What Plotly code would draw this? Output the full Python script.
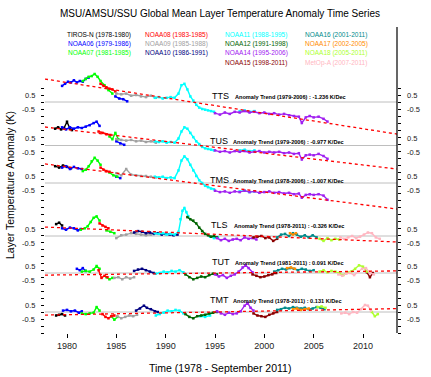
import plotly.graph_objects as go

# ---------------- data ----------------
SATELLITES = ["TIROS-N", "NOAA06", "NOAA07", "NOAA08", "NOAA09", "NOAA10", "NOAA11",
              "NOAA12", "NOAA14", "NOAA15", "NOAA16", "NOAA17", "NOAA18", "MetOp-A"]
SAT_PERIODS = ["(1978-1980)", "(1979-1986)", "(1981-1985)", "(1983-1985)", "(1985-1988)",
               "(1986-1991)", "(1988-1995)", "(1991-1998)", "(1995-2006)", "(1998-2011)",
               "(2001-2011)", "(2002-2005)", "(2005-2011)", "(2007-2011)"]
SAT_COLORS = ["#000000", "#0000FF", "#00FF00", "#FF0000", "#A0A0A0", "#000080", "#00FFFF",
              "#006400", "#A020F0", "#8B0000", "#008B8B", "#FF8C00", "#ADFF2F", "#FFB6C1"]

PANELS = ["TTS", "TUS", "TMS", "TLS", "TUT", "TMT"]
TREND_LABELS = ["Anomaly Trend (1979-2006) : -1.236 K/Dec",
                "Anomaly Trend (1979-2006) : -0.977 K/Dec",
                "Anomaly Trend (1978-2006) : -1.007 K/Dec",
                "Anomaly Trend (1978-2011) : -0.326 K/Dec",
                "Anomaly Trend (1981-2011) : 0.091 K/Dec",
                "Anomaly Trend (1978-2011) : 0.131 K/Dec"]
TREND_YEARS = [1977.77, 2013.45]
TREND_TTS = [1.64, -2.29]
TREND_TUS = [1.32, -1.68]
TREND_TMS = [1.36, -1.86]
TREND_TLS = [0.64, -0.43]
TREND_TUT = [-0.15, 0.15]
TREND_TMT = [-0.22, 0.24]

N14_T = [1995.0, 1995.5, 1996.0, 1996.5, 1997.0, 1997.5, 1998.0, 1998.5, 1999.0, 1999.5,
         2000.0, 2000.5, 2001.0, 2001.5, 2002.0, 2002.5, 2003.0, 2003.5, 2003.8, 2004.2,
         2004.6, 2005.0, 2005.5, 2006.0, 2006.4]
N11_T = [1988.9, 1989.3, 1989.7, 1990.1, 1990.5, 1990.9, 1991.3, 1991.6, 1991.9, 1992.2,
         1992.5, 1992.8, 1993.1, 1993.4, 1993.7, 1994.0, 1994.3, 1994.6, 1994.9,
         None, 1997.5, 1998.0, 1998.5, 1999.0]

TTS = {
    "NOAA06": ([1979.5, 1979.8, 1980.1, 1980.4, 1980.7, 1981.0, 1981.3, 1981.6, 1981.9, 1982.2,
                None, 1984.9, 1985.3, 1985.7, 1986.1],
               [1.15, 1.3, 1.45, 1.4, 1.55, 1.4, 1.5, 1.45, 1.65, 1.75,
                None, 0.4, 0.25, 0.2, 0.05]),
    "NOAA07": ([1981.6, 1981.9, 1982.2, 1982.5, 1982.8, 1983.1, 1983.4, 1983.8, 1984.2, 1984.6],
               [1.5, 1.65, 1.8, 1.85, 2.0, 1.8, 1.5, 1.2, 0.85, 0.6]),
    "NOAA08": ([1983.4, 1983.7, 1984.0, 1984.3, 1984.6, 1984.9],
               [1.3, 1.15, 1.05, 0.95, 0.9, 0.75]),
    "NOAA09": ([1985.0, 1985.5, 1986.0, 1986.5, 1987.0, 1987.5, 1988.0, 1988.5, 1989.0],
               [0.6, 0.55, 0.6, 0.45, 0.5, 0.4, 0.35, 0.45, 0.3]),
    "NOAA11": (N11_T,
               [0.3, 0.35, 0.25, 0.3, 0.35, 0.3, 0.6, 1.2, 1.3, 0.9, 0.4, 0.1, -0.2, -0.4,
                -0.5, -0.55, -0.6, -0.65, -0.7, None, -0.65, -0.6, -0.7, -0.65]),
    "NOAA14": (N14_T,
               [-0.8, -0.9, -0.75, -0.85, -0.7, -0.75, -0.65, -0.75, -0.7, -0.8, -0.75, -0.85,
                -0.8, -0.9, -0.85, -0.95, -1.0, -1.05, -1.5, -1.1, -1.0, -1.1, -1.05, -1.2, -1.4]),
}

TUS = {
    "TIROS-N": ([1978.8, 1979.1, 1979.4, 1979.7, 1980.0, 1980.3, 1980.5],
                [1.2, 1.3, 1.15, 1.25, 1.7, 1.2, 1.1]),
    "NOAA06": ([1979.5, 1979.9, 1980.3, 1980.7, 1981.1, 1981.5, 1981.9, 1982.3, 1982.7, 1983.0,
                1983.3, None, 1985.0, 1985.4, 1985.8],
               [1.3, 1.15, 1.3, 1.2, 1.3, 1.25, 1.35, 1.45, 1.6, 1.7, 1.4, None, 0.3, 0.15, 0.05]),
    "NOAA08": ([1983.2, 1983.6, 1984.0, 1984.4], [1.0, 0.9, 0.8, 0.75]),
    "NOAA07": ([1984.3, 1984.6, 1984.9, 1985.2], [0.65, 0.45, 0.9, 0.45]),
    "NOAA09": ([1985.0, 1985.5, 1986.0, 1986.5, 1987.0, 1987.5, 1988.0, 1988.5, 1989.0],
               [0.45, 0.4, 0.35, 0.4, 0.3, 0.35, 0.25, 0.3, 0.2]),
    "NOAA11": (N11_T,
               [0.3, 0.25, 0.3, 0.2, 0.25, 0.2, 0.5, 1.0, 1.3, 1.2, 0.9, 0.6, 0.3, 0.1, -0.1,
                -0.2, -0.25, -0.3, -0.35, None, -0.35, -0.3, -0.4, -0.35]),
    "NOAA14": (N14_T,
               [-0.35, -0.45, -0.4, -0.5, -0.4, -0.45, -0.4, -0.5, -0.45, -0.4, -0.5, -0.45,
                -0.5, -0.45, -0.55, -0.5, -0.6, -0.55, -1.0, -0.7, -0.65, -0.7, -0.6, -0.75, -0.95]),
}

TMS = {
    "TIROS-N": ([1978.8, 1979.2, 1979.6, 1980.0, 1980.4], [1.2, 1.1, 1.25, 1.15, 1.05]),
    "NOAA06": ([1979.5, 1979.9, 1980.3, 1980.7, 1981.1, 1981.5, None, 1985.0, 1985.4],
               [1.1, 1.2, 1.0, 1.15, 1.05, 1.0, None, 0.45, 0.35]),
    "NOAA07": ([1981.6, 1981.9, 1982.2, 1982.5, 1982.8, 1983.1, 1983.4, None, 1984.3, 1984.7, 1985.1],
               [0.85, 0.95, 1.2, 1.55, 1.8, 1.6, 1.3, None, 0.75, 0.55, 0.45]),
    "NOAA08": ([1983.4, 1983.7, 1984.0, 1984.3], [1.1, 0.95, 0.85, 0.8]),
    "NOAA09": ([1985.0, 1985.5, 1986.0, 1986.5, 1987.0, 1987.5, 1988.0, 1988.5, 1989.0],
               [0.7, 0.55, 1.0, 0.6, 0.55, 0.5, 0.5, 0.45, 0.4]),
    "NOAA11": (N11_T,
               [0.45, 0.4, 0.45, 0.35, 0.4, 0.35, 0.9, 1.6, 1.9, 1.7, 1.3, 0.9, 0.5, 0.2, 0.0,
                -0.2, -0.3, -0.4, -0.45, None, -0.6, -0.55, -0.65, -0.6]),
    "NOAA14": (N14_T,
               [-0.55, -0.65, -0.6, -0.7, -0.6, -0.65, -0.55, -0.65, -0.6, -0.7, -0.65, -0.6,
                -0.7, -0.65, -0.75, -0.7, -0.8, -0.75, -1.05, -0.85, -0.8, -0.85, -0.8, -0.9, -1.2]),
}

TLS = {
    "TIROS-N": ([1978.9, 1979.2, 1979.5], [0.85, 0.95, 0.75]),
    "NOAA06": ([1979.5, 1979.9, 1980.3, 1980.7, 1981.1, 1981.4], [0.55, 0.45, 0.6, 0.55, 0.4, 0.5]),
    "NOAA07": ([1981.4, 1981.8, 1982.1, 1982.4, 1982.7, 1983.0, 1983.3, None, 1984.0, 1984.4, 1984.8],
               [0.45, 0.55, 0.7, 1.0, 1.3, 1.4, 1.1, None, 0.4, 0.3, 0.2]),
    "NOAA08": ([1983.3, 1983.6, 1983.9, 1984.2], [0.9, 0.75, 0.65, 0.55]),
    "NOAA09": ([1985.0, 1985.5, 1986.0, 1986.5, 1987.0, 1987.5, 1988.0, 1988.5],
               [-0.15, 0.05, 0.1, 0.2, 0.15, 0.1, 0.05, 0.1]),
    "NOAA10": ([1986.8, 1987.2, 1987.6, 1988.0, 1988.4, 1988.8, 1989.2, 1989.6, 1990.0, 1990.4,
                1990.8, 1991.2],
               [0.25, 0.35, 0.3, 0.2, 0.25, 0.15, 0.2, 0.1, 0.15, 0.1, 0.05, 0.1]),
    "NOAA11": ([1988.9, 1989.3, 1989.7, 1990.1, 1990.5, 1990.9, 1991.3, 1991.5, 1991.7, 1991.9,
                1992.1, 1992.3, None, 1994.5, 1994.9, 1995.3],
               [0.2, 0.15, 0.2, 0.1, 0.15, 0.1, 0.3, 1.2, 1.8, 2.0, 1.7, 1.4, None, -0.05, -0.15, -0.1]),
    "NOAA12": ([1992.2, 1992.5, 1992.8, 1993.1, 1993.4, 1993.7, 1994.0, 1994.3, 1994.6, 1994.9, 1995.2],
               [1.35, 1.2, 1.1, 0.9, 0.6, 0.35, 0.15, 0.05, -0.05, 0.0, -0.1]),
    "NOAA14": ([1995.2, 1995.6, 1996.0, 1996.4, 1996.8, 1997.2, 1997.6, 1998.0, 1998.4, 1998.8, 1999.2],
               [-0.15, -0.3, -0.2, -0.35, -0.25, -0.2, -0.3, -0.1, -0.2, -0.15, -0.25]),
    "NOAA15": ([1998.9, 1999.3, 1999.7, 2000.1, 2000.5, 2000.9, 2001.3],
               [-0.1, -0.05, 0.0, -0.15, -0.1, -0.35, -0.2]),
    "NOAA16": ([2001.3, 2001.7, 2002.1, 2002.5, 2002.9, 2003.3, 2003.7, 2004.1, 2004.5, 2004.9, 2005.3],
               [-0.1, 0.1, 0.15, 0.0, 0.2, 0.1, -0.05, 0.05, -0.1, 0.05, -0.1]),
    "NOAA17": ([2002.6, 2002.9, 2003.2], [0.2, 0.1, 0.2]),
    "NOAA18": ([2005.6, 2006.0, 2006.4, 2006.8, 2007.2, 2007.6], [-0.2, -0.35, -0.15, -0.3, -0.2, -0.25]),
    "MetOp-A": ([2007.7, 2008.1, 2008.5, 2008.9, 2009.3, 2009.7, 2010.1, 2010.5, 2010.9, 2011.3, 2011.7],
                [-0.1, -0.2, -0.1, 0.0, -0.15, -0.05, 0.1, 0.25, 0.2, -0.1, -0.2]),
}

TUT = {
    "NOAA06": ([1981.0, 1981.3, 1981.6, 1981.9], [0.3, 0.2, 0.35, 0.15]),
    "NOAA07": ([1981.5, 1981.9, 1982.3, 1982.7, 1983.0, 1983.3, None, 1984.0, 1984.3, 1984.6],
               [0.1, 0.15, 0.1, 0.25, 0.5, 0.3, None, -0.3, -0.45, -0.35]),
    "NOAA08": ([1983.2, 1983.5, 1983.8, 1984.1], [0.2, -0.35, -0.2, -0.3]),
    "NOAA09": ([1984.8, 1985.2, 1985.6, 1986.0, 1986.4, 1986.8], [-0.35, -0.3, -0.45, -0.3, -0.4, -0.3]),
    "NOAA10": ([1986.8, 1987.2, 1987.6, 1988.0, 1988.4, 1988.8], [0.15, 0.25, 0.3, 0.2, 0.1, 0.0]),
    "NOAA11": ([1989.0, 1989.4, 1989.8, 1990.2, 1990.6, 1991.0, 1991.4, 1991.8],
               [-0.05, 0.0, 0.1, 0.05, 0.15, 0.1, 0.2, 0.05]),
    "NOAA12": ([1992.0, 1992.4, 1992.8, 1993.2, 1993.6, 1994.0, 1994.4, 1994.8, 1995.2],
               [-0.1, -0.3, -0.45, -0.35, -0.25, -0.3, -0.15, -0.05, -0.1]),
    "NOAA14": ([1995.0, 1995.4, 1995.8, 1996.2, 1996.6, 1997.0, 1997.4, 1997.8, 1998.1, 1998.4, 1998.8],
               [-0.1, -0.25, -0.15, -0.35, -0.2, -0.1, 0.1, 0.4, 0.55, 0.35, 0.05]),
    "NOAA15": ([1998.8, 1999.2, 1999.6, 2000.0, 2000.4, 2000.8, 2001.2, None, 2010.4, 2010.7, 2011.0],
               [-0.1, -0.2, -0.3, -0.25, -0.15, -0.1, 0.0, None, 0.05, -0.3, 0.0]),
    "NOAA16": ([2001.0, 2001.4, 2001.8, 2002.2, 2002.6, 2003.0, 2003.4, 2003.8, 2004.2, 2004.6, 2005.0],
               [0.1, 0.2, 0.3, 0.25, 0.35, 0.3, 0.2, 0.3, 0.25, 0.15, 0.2]),
    "NOAA17": ([2002.3, 2002.7, 2003.1], [0.35, 0.4, 0.3]),
    "MetOp-A": ([2007.5, 2007.9, 2008.3, 2008.7, 2009.1, 2009.5, 2009.9, 2010.3, 2010.7, 2011.1],
                [-0.1, -0.2, -0.05, 0.0, -0.15, 0.1, 0.3, 0.35, 0.0, -0.1]),
    "NOAA18": ([2005.6, 2006.0, 2006.4, 2006.8, 2007.2, 2007.6, 2008.0, 2008.4, 2008.8, 2009.2,
                2009.6, 2010.0, 2010.4],
               [0.1, 0.2, 0.05, 0.15, 0.1, 0.0, -0.15, 0.05, 0.1, 0.3, 0.55, 0.45, 0.1]),
}

TMT = {
    "TIROS-N": ([1978.9, 1979.2, 1979.5, 1979.8], [-0.25, -0.2, -0.15, -0.25]),
    "NOAA06": ([1979.6, 1980.0, 1980.4, 1980.8, 1981.2, 1981.5], [0.1, 0.15, 0.05, 0.1, -0.05, 0.05]),
    "NOAA07": ([1981.5, 1981.9, 1982.3, 1982.7, 1983.0, 1983.3, None, 1984.5, 1984.8, 1985.1],
               [-0.1, -0.15, -0.1, -0.05, 0.35, 0.1, None, -0.3, -0.55, -0.35]),
    "NOAA08": ([1983.6, 1983.9, 1984.2, 1984.5, 1984.8], [-0.15, -0.35, -0.45, -0.3, -0.25]),
    "NOAA09": ([1985.1, 1985.5, 1985.9, 1986.3, 1986.7, 1987.1], [-0.3, -0.45, -0.35, -0.25, -0.3, -0.2]),
    "NOAA10": ([1987.0, 1987.4, 1987.8, 1988.1, 1988.5, 1988.9, 1989.2], [0.1, 0.25, 0.45, 0.3, 0.2, 0.05, 0.0]),
    "NOAA11": ([1989.0, 1989.4, 1989.8, 1990.2, 1990.6, 1991.0, 1991.4, 1991.8, None, 1993.5, 1994.0, 1994.5],
               [-0.25, -0.15, -0.05, 0.1, 0.05, 0.15, 0.1, -0.1, None, -0.3, -0.35, -0.25]),
    "NOAA12": ([1992.0, 1992.4, 1992.8, 1993.2, 1993.6, 1994.0, 1994.4, 1994.8, 1995.2],
               [-0.15, -0.35, -0.45, -0.3, -0.25, -0.2, -0.1, -0.05, 0.0]),
    "NOAA14": ([1995.2, 1995.6, 1996.0, 1996.4, 1996.8, 1997.2, 1997.6, 1998.0, 1998.3, 1998.6, 1998.9],
               [0.05, -0.1, -0.2, -0.05, -0.15, -0.1, 0.05, 0.45, 0.65, 0.3, 0.1]),
    "NOAA15": ([1998.9, 1999.3, 1999.7, 2000.1, 2000.5, 2000.9, 2001.3], [-0.1, -0.25, -0.3, -0.35, -0.2, -0.1, 0.0]),
    "NOAA16": ([2001.3, 2001.7, 2002.1, 2002.5, 2002.9, 2003.3, 2003.7, 2004.1, 2004.5, 2004.9, 2005.3,
                2005.7, 2006.1],
               [0.15, 0.2, 0.3, 0.25, 0.35, 0.3, 0.25, 0.3, 0.2, 0.25, 0.35, 0.3, 0.2]),
    "NOAA17": ([2002.9, 2003.3, 2003.7, 2004.1, 2004.5], [0.2, 0.25, 0.15, 0.2, 0.25]),
    "MetOp-A": ([2007.8, 2008.2, 2008.6, 2009.0, 2009.4, 2009.8, 2010.2, 2010.5, 2010.8],
                [-0.1, -0.05, -0.15, 0.0, -0.05, 0.2, 0.5, 0.45, 0.1]),
    "NOAA18": ([2005.4, 2005.8, 2006.2, None, 2010.9, 2011.2, 2011.5], [0.35, 0.4, 0.3, None, 0.0, -0.3, -0.15]),
}

X_TICKS = [1980, 1985, 1990, 1995, 2000, 2005, 2010]

# ---------------- layout constants ----------------
W, H = 431, 377
PL, PR, PT, PB = 45, 397, 27, 333          # plot area in pixels
PX_PER_K = 14.0
PANEL_ZERO_PX = [102, 145.5, 183, 236, 273, 312]
PANEL_LABEL_PX = [(210, 96), (208, 141), (208, 180), (209, 225), (210, 262), (208, 300)]
FONT = "Liberation Sans, Arial, sans-serif"


def px(xp):
    return (xp - PL) / (PR - PL)


def py(yp):
    return (PB - yp) / (PB - PT)


span_k = (PB - PT) / PX_PER_K
offsets = [(PB - z) / PX_PER_K for z in PANEL_ZERO_PX]   # vertical stacking of the panels
panel_data = [TTS, TUS, TMS, TLS, TUT, TMT]
trends = [TREND_TTS, TREND_TUS, TREND_TMS, TREND_TLS, TREND_TUT, TREND_TMT]
col = dict(zip(SATELLITES, SAT_COLORS))


def shift(vals, off):
    return [None if v is None else v + off for v in vals]


fig = go.Figure()
shapes = []
annotations = []
tick_font = dict(family=FONT, size=7.5, color="#222222")

for i, name in enumerate(PANELS):
    off = offsets[i]
    shapes.append(dict(type="line", xref="paper", yref="y", x0=0, x1=1, y0=off, y1=off,
                       line=dict(color="#BEBEBE", width=1), layer="below"))
    for sat in SATELLITES:
        if sat in panel_data[i]:
            t, v = panel_data[i][sat]
            fig.add_trace(go.Scatter(x=t, y=shift(v, off), mode="lines+markers",
                                     line=dict(color=col[sat], width=1.4),
                                     marker=dict(color=col[sat], size=2.5, symbol="square"),
                                     showlegend=False, hoverinfo="skip"))
    fig.add_trace(go.Scatter(x=TREND_YEARS, y=shift(trends[i], off), mode="lines",
                             line=dict(color="#FF0000", width=1.3, dash="3px,3px"),
                             showlegend=False, hoverinfo="skip"))
    lx, ly = PANEL_LABEL_PX[i]
    annotations.append(dict(x=px(lx), y=py(ly), xref="paper", yref="paper", text=name,
                            showarrow=False, xanchor="left", yanchor="middle",
                            font=dict(family=FONT, size=9, color="#000000")))
    annotations.append(dict(x=px(lx + 23), y=py(ly + 1), xref="paper", yref="paper",
                            text=f"<b>{TREND_LABELS[i]}</b>", showarrow=False,
                            xanchor="left", yanchor="middle",
                            font=dict(family=FONT, size=5.6, color="#000000")))
    # +-0.5 tick labels on both sides
    for v, s in ((off + 0.5, "0.5"), (off - 0.5, "-0.5")):
        annotations.append(dict(x=px(PR + 8), y=v, xref="paper", yref="y", text=s,
                                showarrow=False, xanchor="left", yanchor="middle", font=tick_font))
        annotations.append(dict(x=px(PL - 8), y=v, xref="paper", yref="y", text=s,
                                showarrow=False, xanchor="right", yanchor="middle", font=tick_font))

# legend (as text)
legend_cols = [(133, "right", [0, 1, 2]), (143, "left", [3, 4, 5]),
               (223, "left", [6, 7, 8, 9]), (303, "left", [10, 11, 12, 13])]
row_y = [34.5, 44, 53.3, 62.5]
for xp, anchor, idxs in legend_cols:
    for r, k in enumerate(idxs):
        annotations.append(dict(x=px(xp), y=py(row_y[r]), xref="paper", yref="paper",
                                text=f"{SATELLITES[k]} {SAT_PERIODS[k]}", showarrow=False,
                                xanchor=anchor, yanchor="middle",
                                font=dict(family=FONT, size=6.5, color=SAT_COLORS[k])))

annotations.append(dict(x=px(220), y=py(14), xref="paper", yref="paper",
                        text="MSU/AMSU/SSU Global Mean Layer Temperature Anomaly Time Series",
                        showarrow=False, xanchor="center", yanchor="middle",
                        font=dict(family=FONT, size=10, color="#000000")))
annotations.append(dict(x=px(220), y=py(368), xref="paper", yref="paper",
                        text="Time (1978 - September 2011)", showarrow=False,
                        xanchor="center", yanchor="middle",
                        font=dict(family=FONT, size=10.5, color="#000000")))
annotations.append(dict(x=px(10), y=py(185), xref="paper", yref="paper",
                        text="Layer Temperature Anomaly (K)", showarrow=False, textangle=-90,
                        xanchor="center", yanchor="middle",
                        font=dict(family=FONT, size=10.5, color="#000000")))

shapes.append(dict(type="line", xref="paper", yref="paper", x0=1, x1=1, y0=0, y1=1,
                   line=dict(color="#000000", width=1.2)))

x0 = 1980 - (67 - PL) / 9.867
x1 = 2010 + (PR - 363) / 9.867
fig.update_layout(
    width=W, height=H, margin=dict(l=PL, r=W - PR, t=PT, b=H - PB, autoexpand=False),
    paper_bgcolor="white", plot_bgcolor="white", showlegend=False,
    xaxis=dict(range=[x0, x1], tickvals=X_TICKS, ticks="outside", ticklen=4,
               tickcolor="#000000", showgrid=False, zeroline=False, showline=False,
               tickfont=dict(family=FONT, size=9, color="#222222"), fixedrange=True),
    yaxis=dict(range=[0, span_k], tickvals=[0.5 * k for k in range(36)], ticks="outside",
               ticklen=3, tickcolor="#000000", mirror="ticks", showticklabels=False,
               showgrid=False, zeroline=False, showline=False, fixedrange=True),
    shapes=shapes, annotations=annotations,
)

fig.write_html("out.html", config={"displayModeBar": False},
               post_script="document.body.style.margin='0px';")
